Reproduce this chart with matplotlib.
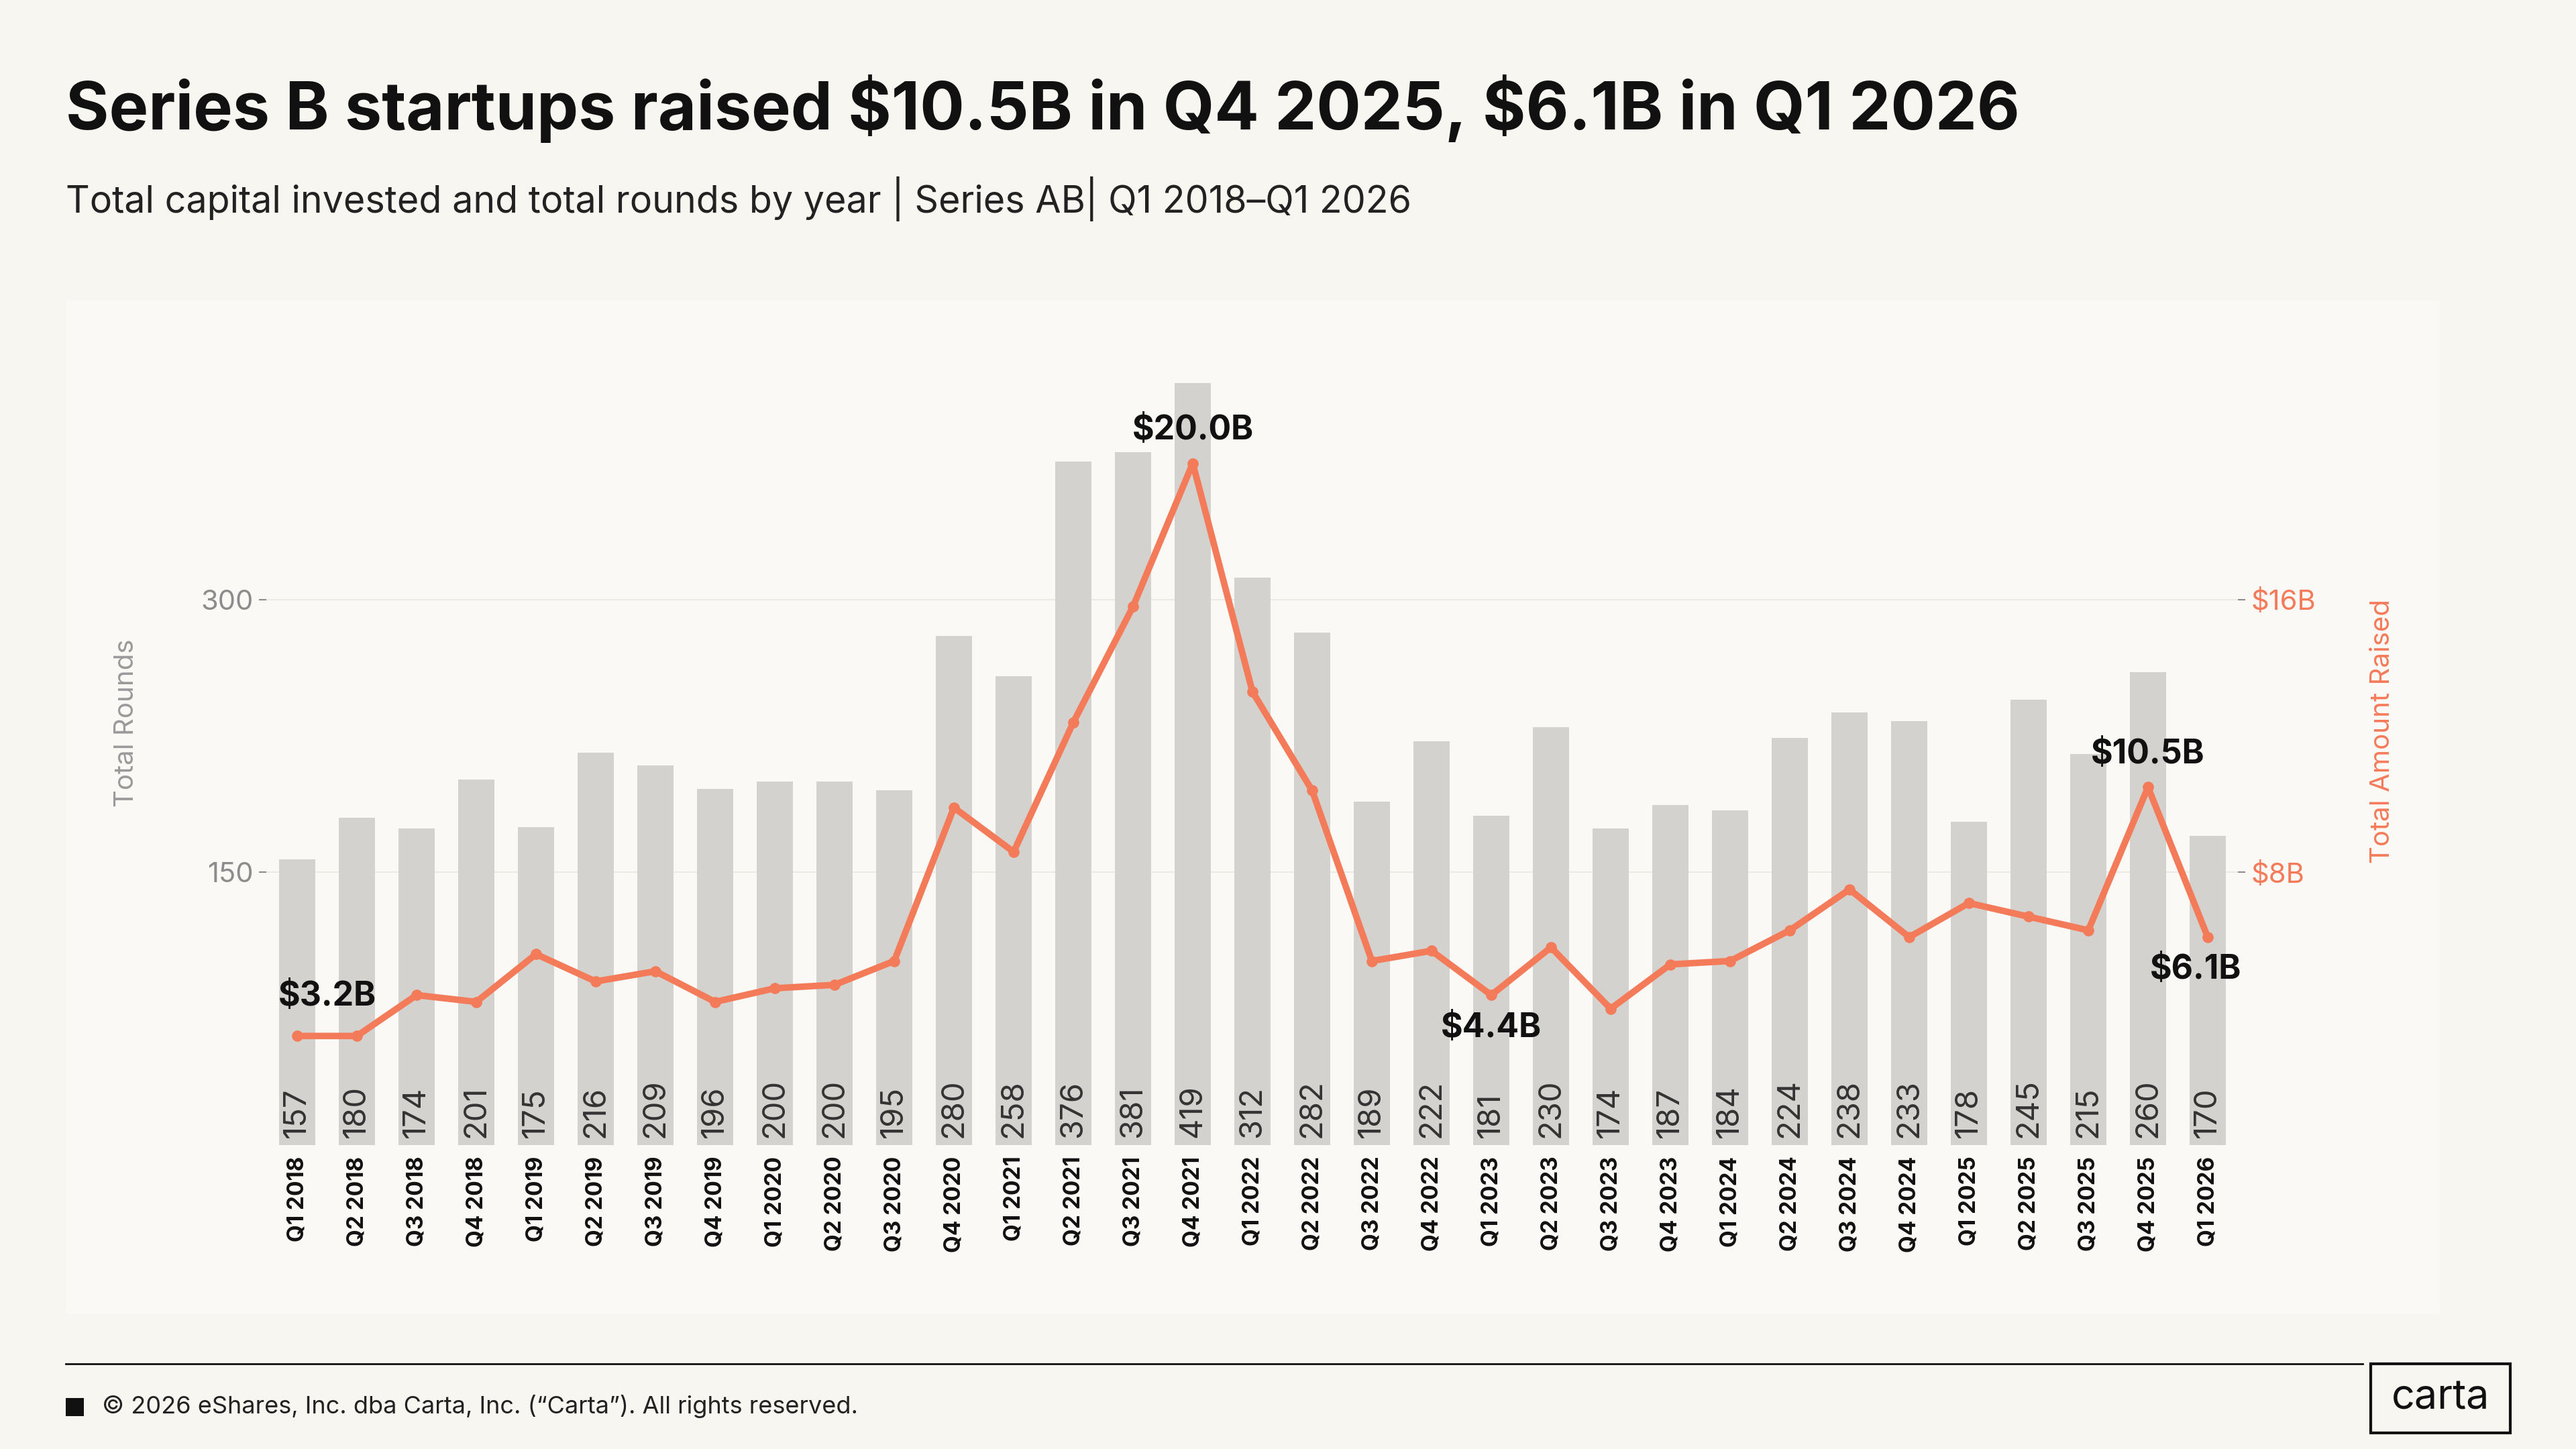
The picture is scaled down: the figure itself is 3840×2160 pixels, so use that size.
import matplotlib
matplotlib.use("Agg")
import matplotlib.pyplot as plt
from matplotlib.patches import Rectangle

quarters = ["Q1 2018","Q2 2018","Q3 2018","Q4 2018","Q1 2019","Q2 2019","Q3 2019","Q4 2019",
            "Q1 2020","Q2 2020","Q3 2020","Q4 2020","Q1 2021","Q2 2021","Q3 2021","Q4 2021",
            "Q1 2022","Q2 2022","Q3 2022","Q4 2022","Q1 2023","Q2 2023","Q3 2023","Q4 2023",
            "Q1 2024","Q2 2024","Q3 2024","Q4 2024","Q1 2025","Q2 2025","Q3 2025","Q4 2025","Q1 2026"]
rounds = [157,180,174,201,175,216,209,196,200,200,195,280,258,376,381,419,312,282,189,222,
          181,230,174,187,184,224,238,233,178,245,215,260,170]
amount_b = [3.2,3.2,4.4,4.2,5.6,4.8,5.1,4.2,4.6,4.7,5.4,9.9,8.6,12.4,15.8,20.0,13.3,10.4,5.4,5.7,
            4.4,5.8,4.0,5.3,5.4,6.3,7.5,6.1,7.1,6.7,6.3,10.5,6.1]
callouts = {0: ("\\$3.2B", 0.5, 0.7), 15: ("\\$20.0B", 0, 0.5), 20: ("\\$4.4B", 0, -0.5),
            31: ("\\$10.5B", 0, 0.5), 32: ("\\$6.1B", -0.2, -0.5)}

FONT = ["Inter", "DejaVu Sans"]
plt.rcParams['font.family'] = FONT
BG = "#F8F6F1"
PANEL = "#FBF9F5"
ORANGE = "#F47B5A"
BAR = "#D3D2CE"

W, H = 1568, 882
fig = plt.figure(figsize=(38.4, 21.6), dpi=100, facecolor=BG)
def fx(x): return x / W
def fy(y): return 1 - y / H

fig.patches.append(Rectangle((fx(40), fy(800)), fx(1485-40), fy(183)-fy(800),
                             transform=fig.transFigure, facecolor=PANEL, edgecolor="none", zorder=-5))

ax = fig.add_axes([fx(162), fy(697), fx(1362-162), fy(215)-fy(697)])
ax.set_zorder(2)
ax.set_facecolor("none")
x = list(range(len(quarters)))
ax.bar(x, rounds, width=0.6, color=BAR, zorder=2)
ax.set_xlim(-0.52, len(x) - 0.5)
ymax = (697-215)/166*150
ax.set_ylim(0, ymax)
ax.set_yticks([150, 300])
ax.set_yticklabels(["150", "300"], fontsize=30, color="#8C8C8C")
ax.tick_params(axis='y', length=8, color="#8C8C8C", width=1.5, pad=6)
ax.grid(axis='y', color="#ECEAE5", lw=1.5, zorder=0)
ax.set_axisbelow(True)
ax.set_xticks(x)
ax.set_xticklabels(quarters, rotation=90, fontsize=24, fontweight="bold", color="#111111")
ax.tick_params(axis='x', length=0, pad=12)
for s in ax.spines.values():
    s.set_visible(False)
for xi, r in zip(x, rounds):
    ax.text(xi, 4, str(r), rotation=90, ha="center", va="bottom", fontsize=34, color="#333333", zorder=3)

ax2 = ax.twinx()
ax2.set_ylim(0, ymax/150*8)
ax2.plot(x, amount_b, color=ORANGE, lw=7, marker="o", ms=11, zorder=5)
ax2.set_yticks([8, 16])
ax2.set_yticklabels(["\\$8B", "\\$16B"], fontsize=30, color=ORANGE)
ax2.tick_params(axis='y', length=8, color="#8C8C8C", width=1.5, pad=6)
for s in ax2.spines.values():
    s.set_visible(False)
for i, (lab, dx, dy) in callouts.items():
    ax2.text(i + dx, amount_b[i] + dy, lab, ha="center", va="bottom" if dy > 0 else "top",
             fontsize=36, fontweight="bold", color="#111111", zorder=6)

fig.text(fx(40), fy(66), "Series B startups raised \\$10.5B in Q4 2025, \\$6.1B in Q1 2026",
         fontsize=71, fontweight="bold", va="center", color="#111111")
fig.text(fx(40), fy(121), "Total capital invested and total rounds by year | Series AB| Q1 2018–Q1 2026",
         fontsize=40, va="center", color="#222222")
fig.text(fx(77), fy(440), "Total Rounds", rotation=90, fontsize=29, color="#9A9A9A", ha="center", va="center")
fig.text(fx(1450), fy(445), "Total Amount Raised", rotation=90, fontsize=29, color=ORANGE, ha="center", va="center")

fig.add_artist(plt.Line2D([fx(40), fx(1438)], [fy(830), fy(830)], transform=fig.transFigure, color="#111111", lw=2))
fig.patches.append(Rectangle((fx(40), fy(862)), fx(11), fy(851)-fy(862), transform=fig.transFigure,
                             facecolor="#111111", edgecolor="none"))
fig.text(fx(62), fy(856), "© 2026 eShares, Inc. dba Carta, Inc. (“Carta”). All rights reserved.",
         fontsize=26, va="center", color="#222222")
fig.patches.append(Rectangle((fx(1443), fy(872)), fx(85), fy(830)-fy(872), transform=fig.transFigure,
                             facecolor="none", edgecolor="#111111", lw=3))
fig.text(fx(1485.5), fy(851), "carta", fontsize=44, ha="center", va="center", color="#111111")

fig.savefig("out.png", dpi=100, facecolor=BG)
